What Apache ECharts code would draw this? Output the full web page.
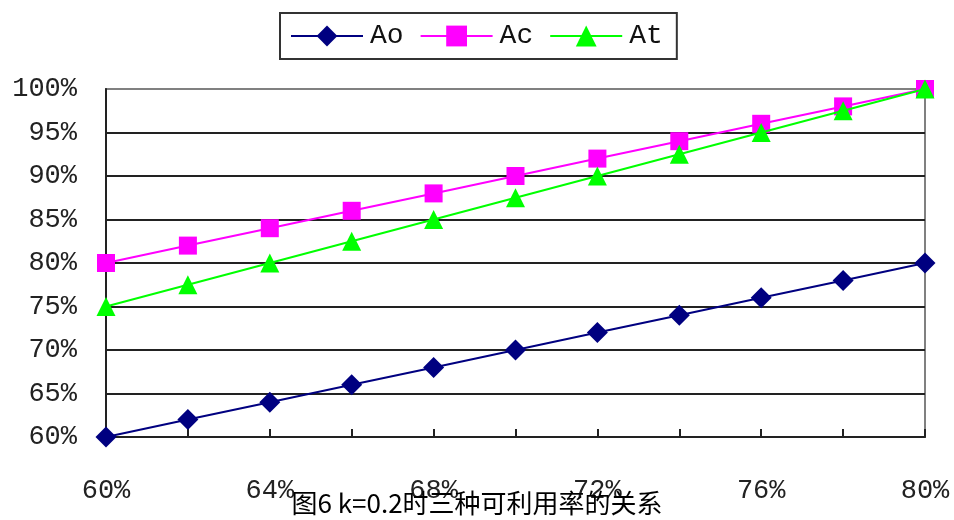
<!DOCTYPE html>
<html>
<head>
<meta charset="utf-8">
<script src="https://cdn.jsdelivr.net/npm/echarts@6/dist/echarts.min.js"></script>
<style>
html, body { margin: 0; padding: 0; background: #fff; }
#chart { width: 954px; height: 520px; }
</style>
</head>
<body>
<div id="chart"></div>
<script>
// x categories: availability level on the horizontal axis
var categories = ['60%', '62%', '64%', '66%', '68%', '70%', '72%', '74%', '76%', '78%', '80%'];
// three availability measures (percent)
var aoValues = [60, 62, 64, 66, 68, 70, 72, 74, 76, 78, 80];
var acValues = [80, 82, 84, 86, 88, 90, 92, 94, 96, 98, 100];
var atValues = [75, 77.5, 80, 82.5, 85, 87.5, 90, 92.5, 95, 97.5, 100];
var titleText = '图6 k=0.2时三种可利用率的关系';

var monoFont = '"Liberation Mono", "DejaVu Sans Mono", monospace';

var chart = echarts.init(document.getElementById('chart'), null, { renderer: 'canvas' });

chart.setOption({
  animation: false,
  backgroundColor: '#ffffff',
  title: {
    text: titleText,
    left: 'center',
    top: 490,
    padding: 0,
    textStyle: {
      fontFamily: '"Noto Sans CJK SC", sans-serif',
      fontSize: 26,
      fontWeight: 'normal',
      color: '#000'
    }
  },
  legend: {
    left: 280,
    top: 13,
    padding: [9, 14, 9, 10],
    borderColor: '#333',
    borderWidth: 2,
    itemWidth: 72,
    itemHeight: 26,
    itemGap: 16,
    textStyle: {
      fontFamily: monoFont,
      fontSize: 28,
      color: '#111',
      padding: [0, 0, 0, 2]
    },
    data: ['Ao', 'Ac', 'At']
  },
  grid: {
    left: 106,
    right: 29,
    top: 89,
    bottom: 83,
    show: true,
    borderColor: '#808080',
    borderWidth: 2,
    containLabel: false
  },
  xAxis: {
    type: 'category',
    data: categories,
    boundaryGap: false,
    axisLine: { lineStyle: { color: '#222', width: 2 } },
    axisTick: { inside: true, length: 8, interval: 0, lineStyle: { color: '#222', width: 2 } },
    axisLabel: {
      interval: 1,
      margin: 40,
      fontFamily: monoFont,
      fontSize: 27,
      color: '#222'
    },
    splitLine: { show: false }
  },
  yAxis: {
    type: 'value',
    min: 60,
    max: 100,
    interval: 5,
    axisLine: { show: true, lineStyle: { color: '#222', width: 2 } },
    axisTick: { show: false },
    axisLabel: {
      margin: 29,
      fontFamily: monoFont,
      fontSize: 27,
      color: '#222',
      formatter: function (v) { return v + '%'; }
    },
    splitLine: {
      show: true,
      lineStyle: {
        width: 2,
        color: ['#222', '#222', '#222', '#222', '#222', '#222', '#222', '#222', '#808080']
      }
    }
  },
  series: [
    {
      name: 'Ao',
      type: 'line',
      data: aoValues,
      symbol: 'diamond',
      symbolSize: 21,
      lineStyle: { color: '#000080', width: 2 },
      itemStyle: { color: '#000080' },
      z: 3
    },
    {
      name: 'Ac',
      type: 'line',
      data: acValues,
      symbol: 'rect',
      symbolSize: 18,
      lineStyle: { color: '#ff00ff', width: 2 },
      itemStyle: { color: '#ff00ff' },
      z: 3
    },
    {
      name: 'At',
      type: 'line',
      data: atValues,
      symbol: 'triangle',
      symbolSize: 19,
      lineStyle: { color: '#00ff00', width: 2 },
      itemStyle: { color: '#00ff00' },
      z: 4
    }
  ]
});
</script>
</body>
</html>
